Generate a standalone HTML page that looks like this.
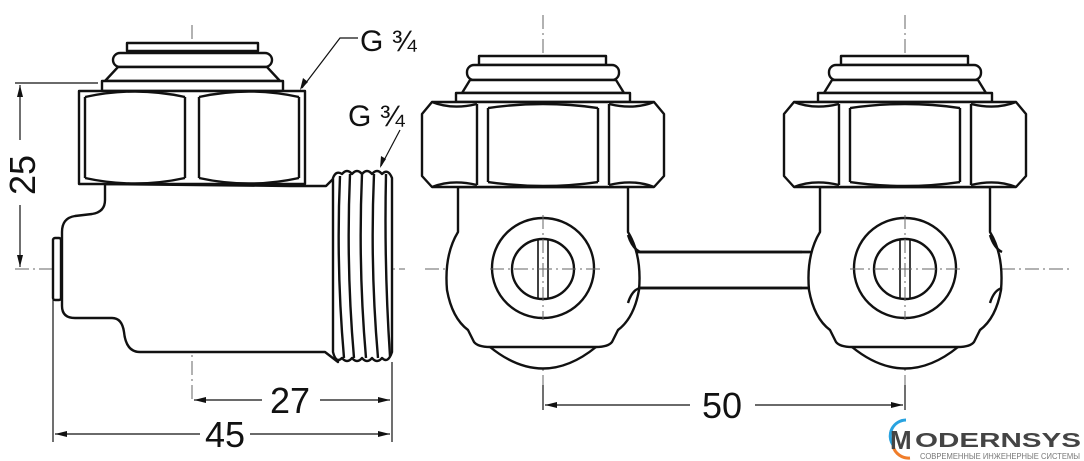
<!DOCTYPE html>
<html><head><meta charset="utf-8"><style>
html,body{margin:0;padding:0;background:#fff;}
svg{display:block;}
text{font-family:"Liberation Sans",sans-serif;}
</style></head><body>
<svg width="1084" height="461" viewBox="0 0 1084 461" xmlns="http://www.w3.org/2000/svg">
<g fill="none" stroke="#666" stroke-width="1" stroke-dasharray="14,4,2,4">
 <line x1="192" y1="25" x2="192" y2="400"/>
 <line x1="15" y1="269" x2="405" y2="269"/>
 <line x1="543" y1="15" x2="543" y2="410"/>
 <line x1="905" y1="15" x2="905" y2="410"/>
 <line x1="425" y1="269" x2="1072" y2="269"/>
</g>
<!-- LEFT SIDE VIEW -->
<g fill="#fff" stroke="#111" stroke-width="2.4" stroke-linejoin="round">
 <!-- body -->
 <path d="M105,184 V200 Q105,212 92,214 L75,216 Q62,218 62,232 V306 Q62,318 75,318 H112 Q122,318 124,332 Q126,352 140,352 H325 L338,362 V174 L326,186 H290 Z"/>
 <rect x="53" y="238" width="8" height="62" rx="2"/>
 <!-- thread -->
 <path d="M333,178 Q336,170 342,174 Q347,168 352,174 Q357,168 362,174 Q367,168 372,174 Q377,168 382,174 Q388,168 392,178 V352 Q388,364 382,358 Q377,364 372,358 Q367,364 362,358 Q357,364 352,358 Q347,364 342,358 Q336,364 333,352 Z"/>
 <path d="M340,176 Q336,266 344,358 M350,174 Q346,266 354,358 M362,174 Q358,266 366,358 M374,174 Q370,266 378,358 M386,174 Q384,266 390,356"/>
 <!-- cap -->
 <rect x="127" y="43" width="131" height="8"/>
 <rect x="113" y="53" width="159" height="14" rx="7"/>
 <path d="M118,67 H267 L280,81 H105 Z"/>
 <rect x="102" y="81" width="181" height="10"/>
 <!-- nut -->
 <rect x="79" y="91" width="226" height="93"/>
 <path d="M85,97 V178 M299,97 V178 M185,97 V178 M199,97 V178"/>
 <path d="M85,97 Q135,86 185,97 M199,97 Q249,86 299,97 M85,178 Q135,189 185,178 M199,178 Q249,189 299,178"/>
</g>
<!-- RIGHT VIEW -->
<g fill="#fff" stroke="#111" stroke-width="2.4" stroke-linejoin="round">
 <!-- bridge -->
 <path d="M620,252 H820 V288 H620 Z"/>
 <path d="M632,252 H810 M632,288 H810" />
</g>
<g id="u" fill="#fff" stroke="#111" stroke-width="2.4" stroke-linejoin="round">
 <path d="M490,347 Q543,390 596,347" />
 <path d="M458,187 V232 Q444,255 447,290 Q452,318 468,330 L474,342 Q478,347 490,347 H596 Q608,347 612,342 L618,330 Q634,318 639,290 Q642,255 628,232 V187 Z"/>
 <path d="M628,235 Q632,248 640,252 M628,303 Q632,290 640,288" fill="none"/>
 <ellipse cx="543" cy="268" rx="51" ry="50"/>
 <ellipse cx="543" cy="269" rx="31" ry="30"/>
 <path d="M538,240 V298 M548,240 V298" fill="none" stroke-width="1.6"/>
 <rect x="479" y="56" width="127" height="9"/>
 <rect x="467" y="65" width="152" height="15" rx="7"/>
 <path d="M470,80 H616 L624,93 H462 Z"/>
 <rect x="456" y="93" width="174" height="9"/>
 <path d="M432,102 H654 L664,114 V176 L654,187 H432 L422,176 V114 Z"/>
 <path d="M477,104 V185 M488,108 V182 M598,108 V182 M609,104 V185" fill="none"/>
 <path d="M432,102 Q452,110 477,104 M609,104 Q634,110 654,102 M488,108 Q543,100 598,108 M432,187 Q452,179 477,185 M609,185 Q634,179 654,187 M488,182 Q543,190 598,182" fill="none"/>
</g>
<use href="#u" x="362"/>
<g fill="none" stroke="#111" stroke-width="2.4"><path d="M640,252 H802 M640,288 H802"/></g>
<g fill="none" stroke="#666" stroke-width="1" stroke-dasharray="14,4,2,4">
 <line x1="543" y1="215" x2="543" y2="320"/><line x1="905" y1="215" x2="905" y2="320"/>
 <line x1="490" y1="269" x2="600" y2="269"/><line x1="850" y1="269" x2="960" y2="269"/>
</g>
<!-- dimensions -->
<g stroke="#111" stroke-width="1.2" fill="none">
 <line x1="15" y1="83" x2="98" y2="83"/>
 <line x1="20" y1="85" x2="20" y2="140"/><line x1="20" y1="205" x2="20" y2="267"/>
 <line x1="392" y1="362" x2="392" y2="442"/>
 <line x1="53" y1="300" x2="53" y2="442"/>
 <line x1="194" y1="400" x2="262" y2="400"/><line x1="320" y1="400" x2="390" y2="400"/>
 <line x1="55" y1="434" x2="200" y2="434"/><line x1="250" y1="434" x2="390" y2="434"/>
 <line x1="543" y1="385" x2="543" y2="410"/><line x1="905" y1="385" x2="905" y2="410"/>
 <line x1="545" y1="405" x2="690" y2="405"/><line x1="755" y1="405" x2="903" y2="405"/>
 <path d="M358,38 H340 L302,88"/>
 <path d="M400,130 L381,166"/>
</g>
<g fill="#111">
 <path d="M20,85 l-3,12 h6z M20,267 l-3,-12 h6z"/>
 <path d="M194,400 l12,-3 v6z M390,400 l-12,-3 v6z"/>
 <path d="M55,434 l12,-3 v6z M390,434 l-12,-3 v6z"/>
 <path d="M545,405 l12,-3 v6z M903,405 l-12,-3 v6z"/>
 <path d="M300,90 l3,-12 l5,4z M380,168 l1,-12 l5,3z"/>
</g>
<g font-size="36" fill="#111">
 <text x="290" y="413" text-anchor="middle">27</text>
 <text x="225" y="447" text-anchor="middle">45</text>
 <text x="722" y="418" text-anchor="middle">50</text>
 <text transform="translate(35,175) rotate(-90)" text-anchor="middle">25</text>
 <text x="360" y="51" font-size="30">G ¾</text>
 <text x="348" y="126" font-size="30">G ¾</text>
</g>
<!-- logo -->
<g>
 <path d="M893,445 A16,16 0 0 1 906,420" stroke="#29a3e0" stroke-width="3" fill="none"/>
 <path d="M893,446 A16,16 0 0 0 910,458" stroke="#f07d2a" stroke-width="3" fill="none"/>
 <text x="890" y="449" font-size="26" font-weight="bold" fill="#444">M</text>
 <text x="915" y="447" font-size="20" font-weight="bold" fill="#444" textLength="166" lengthAdjust="spacingAndGlyphs">ODERNSYS</text>
 <text x="920" y="459" font-size="8" fill="#777" textLength="160" lengthAdjust="spacingAndGlyphs">СОВРЕМЕННЫЕ ИНЖЕНЕРНЫЕ СИСТЕМЫ</text>
</g>
</svg>
</body></html>
